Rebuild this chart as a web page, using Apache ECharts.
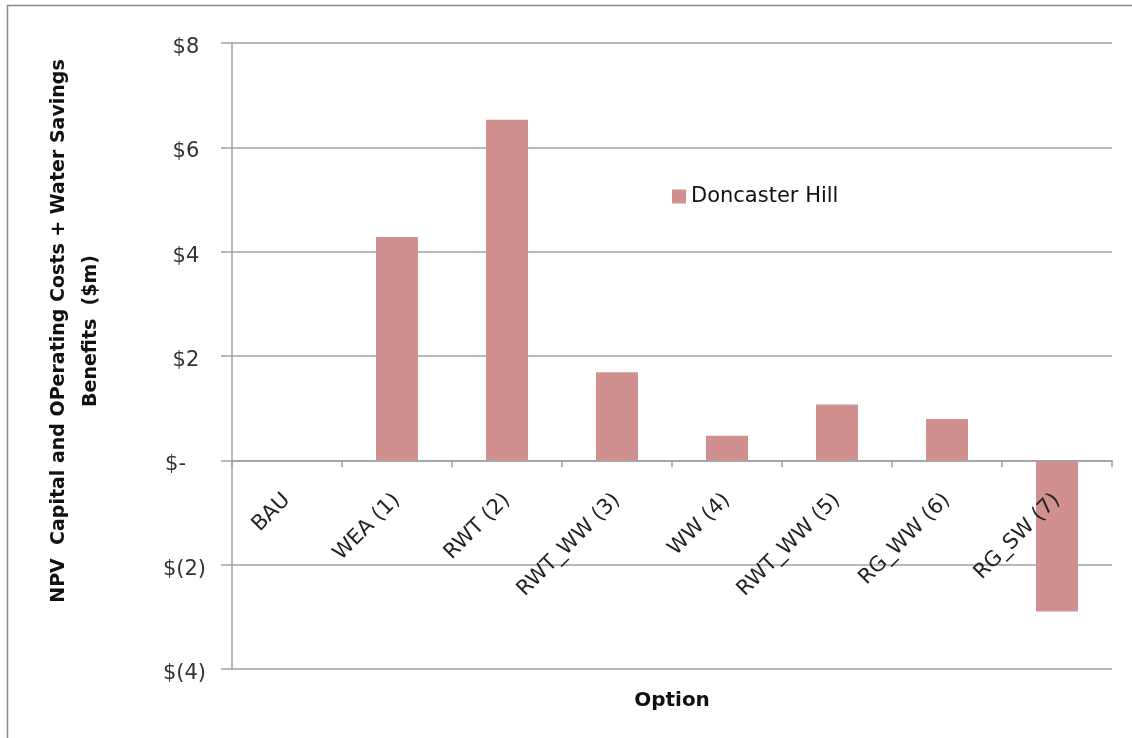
<!DOCTYPE html>
<html>
<head>
<meta charset="utf-8">
<script src="https://cdn.jsdelivr.net/npm/echarts@6/dist/echarts.min.js"></script>
<style>
  html, body { margin: 0; padding: 0; background: #fff; }
  #chart { width: 1132px; height: 738px; }
</style>
</head>
<body>
<div id="chart"></div>
<script>
// Options compared for the Doncaster Hill site
const categories = ['BAU', 'WEA (1)', 'RWT (2)', 'RWT_WW (3)', 'WW (4)', 'RWT_WW (5)', 'RG_WW (6)', 'RG_SW (7)'];
// NPV of capital and operating costs plus water savings benefits, $m
const doncasterHill = [0, 4.28, 6.53, 1.69, 0.47, 1.07, 0.79, -2.9];
const seriesName = 'Doncaster Hill';
const yTicks = [-4, -2, 0, 2, 4, 6, 8];

const FONT = '"DejaVu Sans", sans-serif';

// Accounting-style money labels: negatives in brackets, zero as a dash,
// positives padded so the digits line up with the bracketed ones.
function money(v) {
  if (v === 0) return '$-   ';
  if (v < 0) return '$(' + (-v) + ')';
  return '$' + v + ' ';
}

const chart = echarts.init(document.getElementById('chart'));
chart.setOption({
  animation: false,
  backgroundColor: '#ffffff',
  textStyle: { fontFamily: FONT },
  grid: { left: 232, right: 20, top: 43, bottom: 69, containLabel: false, outerBoundsMode: 'none' },
  legend: {
    data: [seriesName],
    left: 667, top: 181,
    itemWidth: 14, itemHeight: 14,
    itemGap: 6,
    icon: 'rect',
    textStyle: { fontFamily: FONT, fontSize: 21, color: '#111' }
  },
  graphic: [
    { type: 'line', shape: { x1: 7, y1: 5.5, x2: 1132, y2: 5.5 }, style: { stroke: '#8a8a8a', lineWidth: 1.5 }, silent: true },
    { type: 'line', shape: { x1: 7.5, y1: 5, x2: 7.5, y2: 738 }, style: { stroke: '#8a8a8a', lineWidth: 1.5 }, silent: true },
    {
      type: 'text',
      rotation: Math.PI / 2,
      style: {
        text: 'NPV  Capital and OPerating Costs + Water Savings\nBenefits  ($m)',
        fontFamily: FONT, fontSize: 19, fontWeight: 'bold', fill: '#111',
        align: 'center', verticalAlign: 'middle', lineHeight: 32
      },
      x: 75, y: 331
    }
  ],
  xAxis: {
    type: 'category',
    data: categories,
    z: 10,
    name: 'Option',
    nameLocation: 'middle',
    nameGap: 22,
    nameTextStyle: { fontFamily: FONT, fontSize: 20, fontWeight: 'bold', color: '#111' },
    axisLine: { onZero: true, lineStyle: { color: '#a0a0a0', width: 1.5 } },
    axisTick: { show: true, length: 7, lineStyle: { color: '#a0a0a0', width: 1.5 } },
    axisLabel: {
      rotate: 45,
      margin: -172,
      interval: 0,
      fontFamily: FONT, fontSize: 21, color: '#222'
    },
    splitLine: { show: false }
  },
  yAxis: {
    type: 'value',
    min: -4, max: 8, interval: 2,
    axisLine: { show: true, lineStyle: { color: '#a0a0a0', width: 1.5 } },
    axisTick: { show: true, length: 11, lineStyle: { color: '#a0a0a0', width: 1.5 } },
    axisLabel: {
      margin: 26,
      verticalAlign: 'top',
      lineHeight: 9,
      fontFamily: FONT, fontSize: 21, color: '#333',
      formatter: function (v) { return yTicks.indexOf(v) >= 0 ? money(v) : ''; }
    },
    splitLine: { show: true, lineStyle: { color: '#a0a0a0', width: 1.5 } }
  },
  series: [{
    name: seriesName,
    type: 'bar',
    data: doncasterHill,
    barWidth: 42,
    itemStyle: { color: '#d09090' }
  }]
});
</script>
</body>
</html>
